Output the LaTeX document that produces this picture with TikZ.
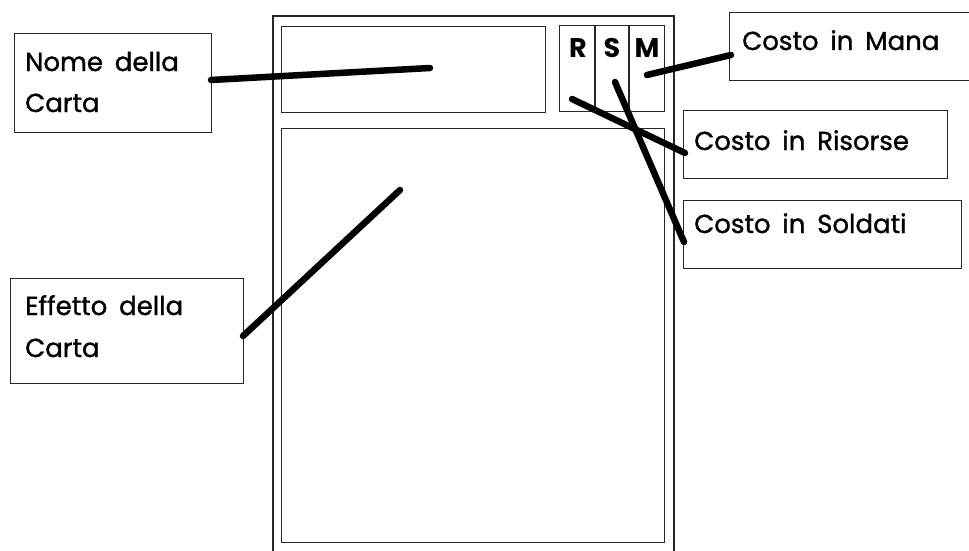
\documentclass[tikz,border=0pt]{standalone}
\usepackage{fontspec}
\setmainfont{Poppins}
\newfontfamily\lblfont[FakeBold=1.2,WordSpace=1.7]{Poppins}
\begin{document}
\begin{tikzpicture}[x=1pt,y=-1pt,
  box/.style={draw=black!85,line width=1.4pt,inner sep=0pt,anchor=north west},
  lbl/.style={inner sep=0pt,anchor=base west,font=\lblfont\fontsize{26}{30}\selectfont},
  cost/.style={inner sep=0pt,anchor=base,font=\fontsize{27}{30}\selectfont\bfseries},
  conn/.style={line width=6.5pt,line cap=round,draw=black}]
\useasboundingbox[fill=white] (0,0) rectangle (969,551);
% card outline (open at bottom)
\draw[line width=1.4pt,draw=black!85] (273,560) -- (273,16) -- (674,16) -- (674,560);
% card parts
\node[box,minimum width=264pt,minimum height=86pt] (name) at (281,26) {};
\node[box,minimum width=105pt,minimum height=86pt] (rsm) at (559,25) {};
\draw[line width=1.4pt,draw=black!85] (595,25) -- (595,111) (629,25) -- (629,111);
\node[box,minimum width=383pt,minimum height=414pt] (eff) at (281,128) {};
\node[cost] (R) at (578,58) {R};
\node[cost] (S) at (612,58) {S};
\node[cost] (M) at (647,58) {M};
% label boxes
\node[box,minimum width=197pt,minimum height=99pt] (bnome) at (14,33) {};
\node[lbl] (tnome1) at (25,71) {Nome della};
\node[lbl] (tnome2) at (25,112) {Carta};
\node[box,minimum width=233pt,minimum height=105pt] (beff) at (10,278) {};
\node[lbl] (teff1) at (25,315) {Effetto della};
\node[lbl] (teff2) at (25,357) {Carta};
\node[box,minimum width=240pt,minimum height=68pt] (bmana) at (729,12) {};
\node[lbl] (tmana) at (742,50) {Costo in Mana};
\node[box,minimum width=264pt,minimum height=68pt] (bris) at (683,110) {};
\node[lbl] (tris) at (694,150) {Costo in Risorse};
\node[box,minimum width=278pt,minimum height=68pt] (bsol) at (683,200) {};
\node[lbl] (tsol) at (694,233) {Costo in Soldati};
% connector ends
\coordinate (pnome) at (430,68);
\coordinate (pmana) at (647,75);
\coordinate (pris) at (572,99);
\coordinate (psol) at (615,82);
\coordinate (peff) at (400,190);
\coordinate (anome) at (211,80);
\coordinate (amana) at (731,55);
\coordinate (aris) at (685,153);
\coordinate (asol) at (684,242);
\coordinate (aeff) at (243,336);
\draw[conn] (anome) -- (pnome);
\draw[conn] (amana) -- (pmana);
\draw[conn] (aris) -- (pris);
\draw[conn] (asol) -- (psol);
\draw[conn] (aeff) -- (peff);
\end{tikzpicture}
\end{document}
